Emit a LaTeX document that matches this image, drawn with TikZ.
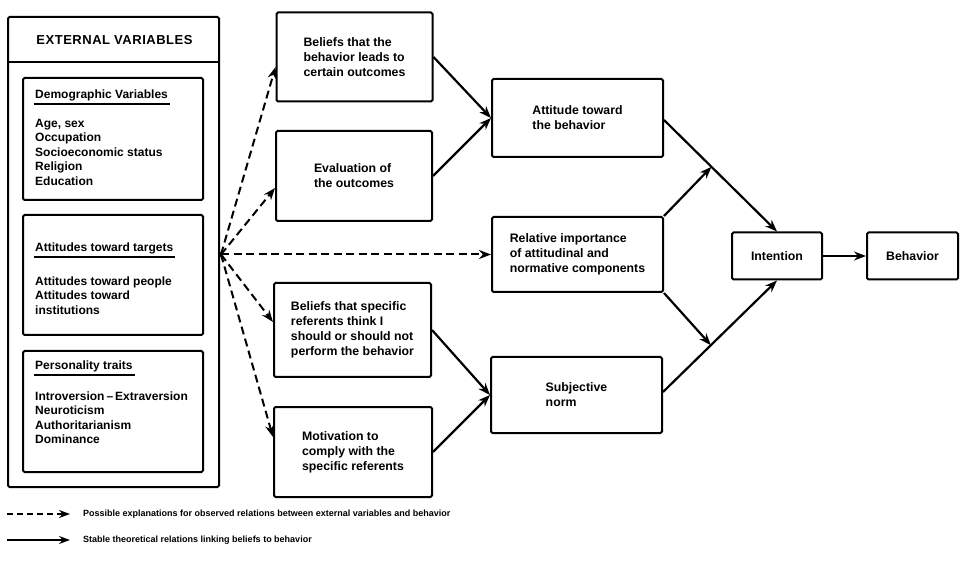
\documentclass[tikz,border=0pt]{standalone}
\usepackage{fontspec}
\setmainfont{Liberation Sans}
\usetikzlibrary{arrows.meta,calc}
\begin{document}
\begin{tikzpicture}[x=1pt,y=-1pt,
  box/.style={draw,line width=2pt,rounded corners=1.5pt,inner sep=0pt,align=left,
    font=\fontsize{12.3}{15}\selectfont\bfseries},
  frame/.style={draw,line width=2pt,rounded corners=1.5pt,inner sep=0pt},
  lbl/.style={inner sep=0pt,font=\fontsize{12}{14.5}\selectfont\bfseries,align=left},
  uline/.style={line width=1.4pt},
  solidarrow/.style={line width=2.2pt,-{Stealth[length=12pt,width=9pt]}},
  dasharrow/.style={line width=2pt,dash pattern=on 8pt off 4.5pt,-{Stealth[length=12pt,width=9pt]}},
  legend/.style={inner sep=0pt,font=\fontsize{9}{11}\selectfont\bfseries},
]
\useasboundingbox (0,0) rectangle (967,561);

% external variables panel
\node[frame,minimum width=211pt,minimum height=470pt] (ext) at (113.5,252) {};
\node[inner sep=0pt,font=\fontsize{13}{15}\selectfont\bfseries\addfontfeatures{LetterSpace=4}] (exth) at (114.5,40) {EXTERNAL VARIABLES};
\coordinate (sepL) at (8,62);
\coordinate (sepR) at (219,62);
\draw[line width=2pt] (sepL) -- (sepR);

\node[frame,minimum width=180pt,minimum height=122pt] (demo) at (113,139) {};
\node[lbl,anchor=base west] (demoh) at (35,99) {Demographic Variables};
\draw[uline] ($(demoh.base west)+(-1,5)$) -- ($(demoh.base east)+(2,5)$);
\node[lbl,anchor=north west] (demot) at (35,119) {Age, sex\\Occupation\\Socioeconomic status\\Religion\\Education};

\node[frame,minimum width=180pt,minimum height=120pt] (attt) at (113,275) {};
\node[lbl,anchor=base west] (atth) at (35,252) {Attitudes toward targets};
\draw[uline] ($(atth.base west)+(-1,5)$) -- ($(atth.base east)+(2,5)$);
\node[lbl,anchor=north west] (attx) at (35,276.5) {Attitudes toward people\\Attitudes toward\\institutions};

\node[frame,minimum width=180pt,minimum height=121pt] (pers) at (113,411.5) {};
\node[lbl,anchor=base west] (persh) at (35,370) {Personality traits};
\draw[uline] ($(persh.base west)+(-1,5)$) -- ($(persh.base east)+(2,5)$);
\node[lbl,anchor=north west] (perst) at (35,391.5) {Introversion\,--\,Extraversion\\Neuroticism\\Authoritarianism\\Dominance};

% belief boxes
\node[box,minimum width=156pt,minimum height=89pt] (b1) at (354.5,57) {Beliefs that the\\behavior leads to\\certain outcomes};
\node[box,minimum width=156pt,minimum height=90pt] (b2) at (354,176) {Evaluation of\\the outcomes};
\node[box,minimum width=157pt,minimum height=94pt] (b3) at (352.5,330) {Beliefs that specific\\referents think I\\should or should not\\perform the behavior};
\node[box,minimum width=158pt,minimum height=90pt] (b4) at (353,452) {Motivation to\\comply with the\\specific referents};

% middle column
\node[box,minimum width=171pt,minimum height=78pt] (att) at (577.5,118) {Attitude toward\\the behavior};
\node[box,minimum width=171pt,minimum height=75pt] (rel) at (577.5,254.5) {Relative importance\\of attitudinal and\\normative components};
\node[box,minimum width=171pt,minimum height=76pt] (subj) at (576.5,395) {Subjective\\norm};

\node[box,minimum width=90pt,minimum height=47pt] (int) at (777,256) {Intention};
\node[box,minimum width=91pt,minimum height=47pt] (beh) at (912.5,256) {Behavior};

% solid arrows
\draw[solidarrow] (b1.east) -- (att.west);
\draw[solidarrow] (b2.east) -- (att.west);
\draw[solidarrow] (b3.east) -- (subj.west);
\draw[solidarrow] (b4.east) -- (subj.west);
\coordinate (attR) at ($(att.east)+(0,2)$);
\coordinate (subjR) at ($(subj.east)+(0,-3)$);
\draw[solidarrow] (attR) -- (int.north);
\draw[solidarrow] (subjR) -- (int.south);
\coordinate (m1) at ($(attR)!0.42!(int.north)$);
\coordinate (m2) at ($(subjR)!0.42!(int.south)$);
\draw[solidarrow] (rel.north east) -- (m1);
\draw[solidarrow] (rel.south east) -- (m2);
\draw[solidarrow,line width=1.5pt] (int.east) -- (beh.west);

% dashed arrows
\coordinate (src) at (221,254.5);
\fill (src) circle (2.5pt);
\draw[dasharrow] (src) -- ($(b1.west)+(0,10)$);
\draw[dasharrow] (src) -- ($(b2.west)+(0,12)$);
\draw[dasharrow] (src) -- (rel.west);
\draw[dasharrow] (src) -- ($(b3.west)+(0,-8)$);
\draw[dasharrow] (src) -- ($(b4.west)+(0,-15)$);

% legend
\coordinate (l1a) at (7,514);
\coordinate (l1b) at (70,514);
\coordinate (l2a) at (7,540);
\coordinate (l2b) at (70,540);
\draw[line width=1.6pt,dash pattern=on 6pt off 4pt,-{Stealth[length=11pt,width=8pt]}] (l1a) -- (l1b);
\draw[line width=1.6pt,-{Stealth[length=11pt,width=8pt]}] (l2a) -- (l2b);
\node[legend,anchor=west] (lt1) at (83,514) {Possible explanations for observed relations between external variables and behavior};
\node[legend,anchor=west] (lt2) at (83,540) {Stable theoretical relations linking beliefs to behavior};
\end{tikzpicture}
\end{document}
